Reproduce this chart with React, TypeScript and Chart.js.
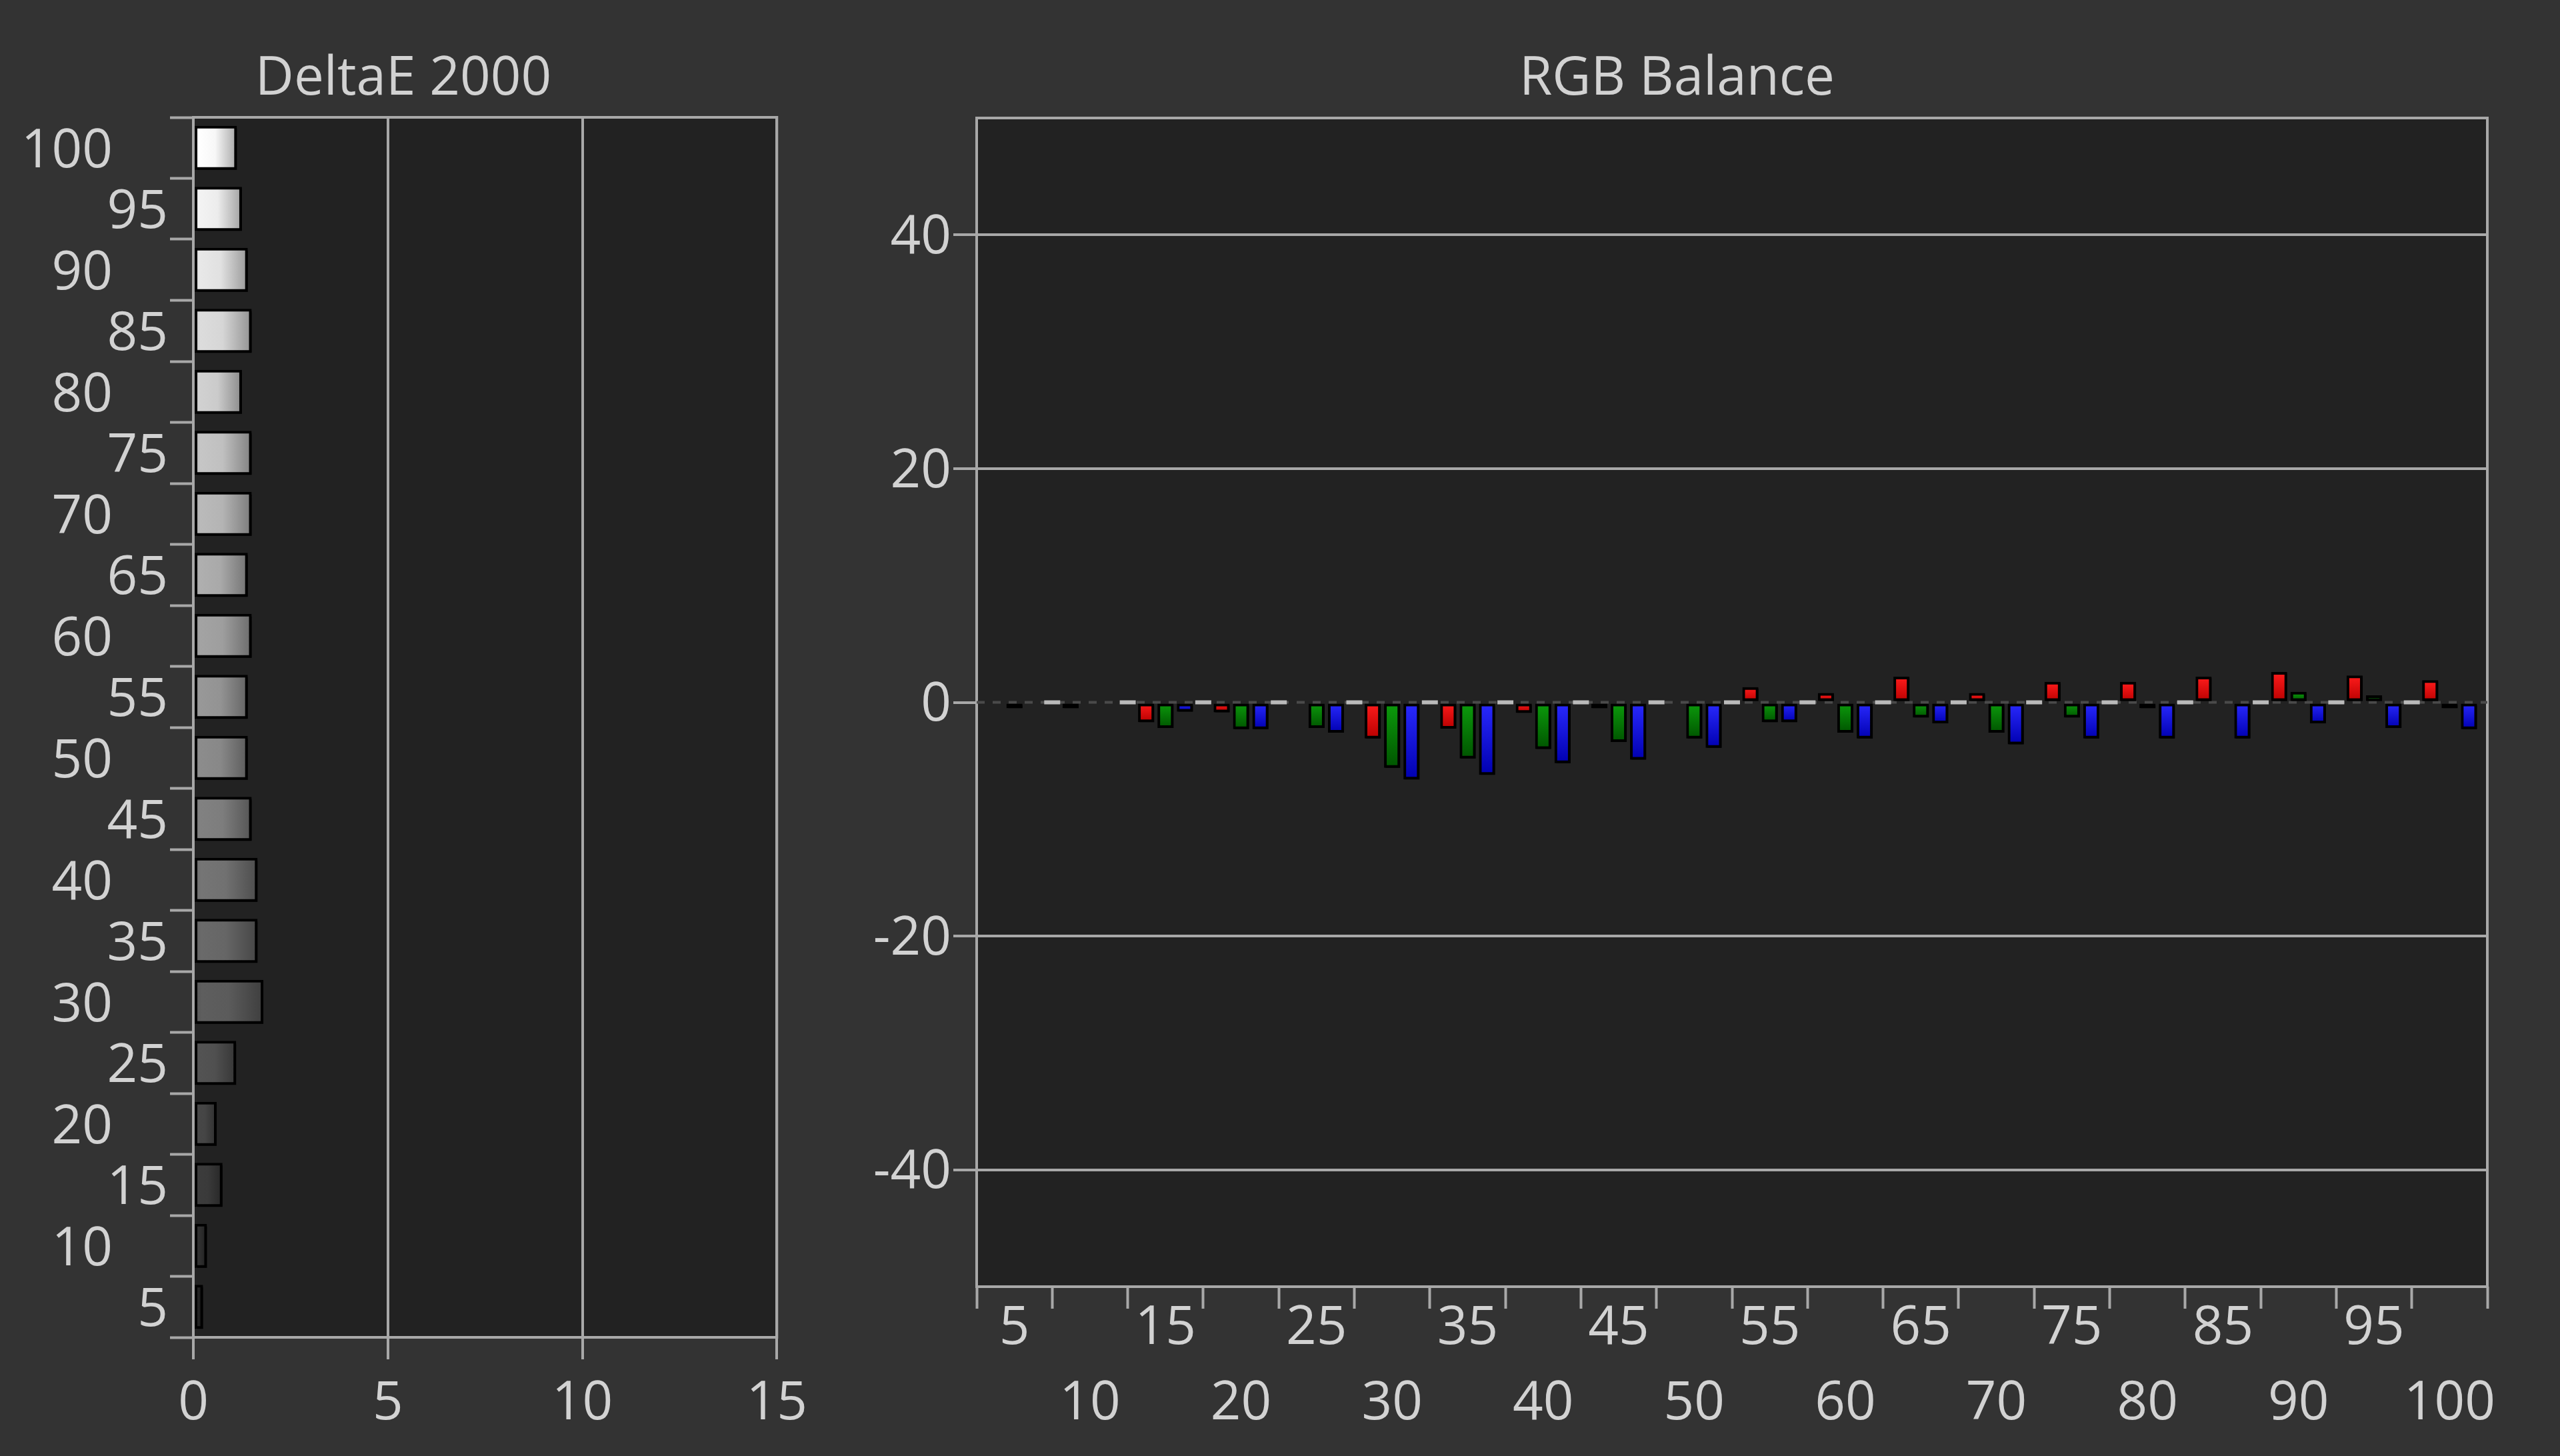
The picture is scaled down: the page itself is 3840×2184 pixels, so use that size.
import React, { useEffect, useRef } from "react";
import { Chart, registerables } from "chart.js";

Chart.register(...registerables);

// ---- data ----
const levels = [5, 10, 15, 20, 25, 30, 35, 40, 45, 50, 55, 60, 65, 70, 75, 80, 85, 90, 95, 100];
const deltaE = [0.25, 0.35, 0.75, 0.6, 1.1, 1.8, 1.65, 1.65, 1.5, 1.4, 1.4, 1.5, 1.4, 1.5, 1.5, 1.25, 1.5, 1.4, 1.25, 1.12];
const redBal = [null, -0.5, -1.7, -0.85, null, -3.1, -2.25, -0.9, -0.5, null, 1.3, 0.8, 2.2, 0.8, 1.75, 1.75, 2.2, 2.6, 2.3, 1.9];
const greenBal = [-0.5, null, -2.2, -2.3, -2.2, -5.6, -4.8, -4.0, -3.4, -3.1, -1.7, -2.6, -1.3, -2.6, -1.3, -0.5, null, 0.9, 0.6, -0.5];
const blueBal = [null, null, -0.8, -2.3, -2.6, -6.6, -6.2, -5.2, -4.9, -3.9, -1.7, -3.1, -1.8, -3.6, -3.1, -3.1, -3.1, -1.8, -2.2, -2.3];
const deltaTicks = [0, 5, 10, 15];
const rgbTicks = [-40, -20, 0, 20, 40];

const FONT = "'Open Sans', 'Noto Sans', sans-serif";
const TXT = "#d2d2d2";
const LINE = "#a8a8a8";
const PLOT_BG = "#222222";

function rgb(v: number) {
  const c = Math.max(0, Math.min(255, Math.round(v)));
  return `rgb(${c},${c},${c})`;
}

function grayFill(ctx: any) {
  const chart = ctx.chart;
  if (!chart.chartArea || ctx.raw == null || ctx.dataIndex == null) return "#888";
  const g = 2.3 * levels[ctx.dataIndex] + 25;
  const x0 = chart.scales.x.getPixelForValue(0);
  const x1 = chart.scales.x.getPixelForValue(ctx.raw);
  if (x1 - x0 < 2) return rgb(g);
  const grad = chart.ctx.createLinearGradient(x0, 0, x1, 0);
  grad.addColorStop(0, rgb(g * 0.86));
  grad.addColorStop(0.12, rgb(g));
  grad.addColorStop(0.5, rgb(g * 0.97));
  grad.addColorStop(1, rgb(g * 0.66));
  return grad;
}

function vGrad(top: string, bottom: string) {
  return (ctx: any) => {
    const chart = ctx.chart;
    if (!chart.chartArea || ctx.raw == null) return top;
    const y0 = chart.scales.y.getPixelForValue(0);
    const y1 = chart.scales.y.getPixelForValue(ctx.raw);
    const a = Math.min(y0, y1);
    const b = Math.max(y0, y1);
    if (b - a < 2) return top;
    const g = chart.ctx.createLinearGradient(0, a, 0, b);
    g.addColorStop(0, top);
    g.addColorStop(1, bottom);
    return g;
  };
}

function makeFramePlugin(opts: { zero?: boolean; shadow: [number, number] }) {
  return {
    id: "frame",
    beforeDraw(chart: any) {
      const { ctx, chartArea: a } = chart;
      ctx.save();
      ctx.fillStyle = PLOT_BG;
      ctx.fillRect(a.left, a.top, a.right - a.left, a.bottom - a.top);
      ctx.restore();
    },
    beforeDatasetsDraw(chart: any) {
      const { ctx, chartArea: a } = chart;
      ctx.save();
      ctx.strokeStyle = LINE;
      ctx.lineWidth = 4;
      ctx.strokeRect(a.left, a.top, a.right - a.left, a.bottom - a.top);
      if (opts.zero) {
        const y0 = chart.scales.y.getPixelForValue(0);
        ctx.strokeStyle = "#4a4a4a";
        ctx.setLineDash([12, 12]);
        ctx.beginPath();
        ctx.moveTo(a.left, y0);
        ctx.lineTo(a.right, y0);
        ctx.stroke();
        ctx.setLineDash([]);
        ctx.strokeStyle = "#bababa";
        ctx.lineWidth = 6;
        const xs = chart.scales.x;
        for (let i = 1; i < levels.length; i++) {
          const x = xs.getPixelForValue(i - 0.5);
          ctx.beginPath();
          ctx.moveTo(x - 12, y0);
          ctx.lineTo(x + 12, y0);
          ctx.stroke();
        }
      }
      ctx.restore();
      ctx.save();
      ctx.shadowColor = "rgba(0,0,0,0.95)";
      ctx.shadowOffsetX = opts.shadow[0];
      ctx.shadowOffsetY = opts.shadow[1];
      ctx.shadowBlur = 2;
    },
    afterDatasetsDraw(chart: any) {
      chart.ctx.restore();
    },
  };
}

export default function App() {
  const leftRef = useRef<HTMLCanvasElement>(null);
  const rightRef = useRef<HTMLCanvasElement>(null);

  useEffect(() => {
    document.body.style.margin = "0";
    document.body.style.background = "#333333";
    const font = { family: FONT, size: 80, weight: "normal" as const };

    const left = new Chart(leftRef.current!, {
      type: "bar",
      data: {
        labels: levels.map(String),
        datasets: [
          {
            data: deltaE,
            backgroundColor: grayFill,
            borderColor: "#000000",
            borderWidth: 4,
            borderSkipped: false,
            barPercentage: 0.72,
            categoryPercentage: 1,
          },
        ],
      },
      options: {
        indexAxis: "y",
        responsive: false,
        devicePixelRatio: 1,
        animation: false,
        layout: { padding: { left: 0, right: 0, top: 0, bottom: 0 } },
        plugins: {
          legend: { display: false },
          tooltip: { enabled: false },
          title: {
            display: true,
            text: "DeltaE 2000",
            color: TXT,
            font: { family: FONT, size: 80, weight: "normal", lineHeight: 1.2 },
            padding: { top: 71, bottom: 9 },
          },
        },
        scales: {
          y: {
            type: "category",
            reverse: true,
            position: "left",
            border: { display: false },
            grid: { drawOnChartArea: false, offset: true, tickLength: 35, tickWidth: 4, tickColor: LINE, color: LINE },
            ticks: {
              color: TXT,
              font,
              padding: 3,
              labelOffset: 6,
              autoSkip: false,
              callback: (_v: any, i: number) => (levels[i] % 10 === 0 ? String(levels[i]) + "    " : String(levels[i])),
            },
            afterFit: (s: any) => {
              s.width = 310;
            },
          },
          x: {
            type: "linear",
            min: deltaTicks[0],
            max: deltaTicks[deltaTicks.length - 1],
            border: { display: false },
            grid: { color: LINE, lineWidth: 4, tickLength: 33, tickWidth: 4, tickColor: LINE },
            ticks: { color: TXT, font, padding: 19, stepSize: 5 },
            afterBuildTicks: (s: any) => {
              s.ticks = deltaTicks.map((v) => ({ value: v }));
            },
            afterFit: (s: any) => {
              s.height = 178;
            },
          },
        },
      },
      plugins: [makeFramePlugin({ shadow: [4, 4] })],
    } as any);

    const right = new Chart(rightRef.current!, {
      type: "bar",
      data: {
        labels: levels.map(String),
        datasets: [
          { label: "R", data: redBal, backgroundColor: vGrad("#ff1c1c", "#b80000") },
          { label: "G", data: greenBal, backgroundColor: vGrad("#0c9c0c", "#005400") },
          { label: "B", data: blueBal, backgroundColor: vGrad("#2a2aff", "#0000b0") },
        ].map((d) => ({
          ...d,
          borderColor: "#000000",
          borderWidth: 4,
          borderSkipped: false,
          barPercentage: 0.83,
          categoryPercentage: 0.77,
        })),
      },
      options: {
        responsive: false,
        devicePixelRatio: 1,
        animation: false,
        layout: { padding: { left: 0, right: 14, top: 0, bottom: 0 } },
        plugins: {
          legend: { display: false },
          tooltip: { enabled: false },
          title: {
            display: true,
            text: "RGB Balance",
            color: TXT,
            font: { family: FONT, size: 80, weight: "normal", lineHeight: 1.2 },
            padding: { top: 71, bottom: 10 },
          },
        },
        scales: {
          x: {
            type: "category",
            border: { display: false },
            grid: { drawOnChartArea: false, offset: true, tickLength: 33, tickWidth: 4, tickColor: LINE, color: LINE },
            ticks: {
              color: TXT,
              font: { ...font, lineHeight: 1.41 },
              padding: -26,
              autoSkip: false,
              maxRotation: 0,
              minRotation: 0,
              callback: (_v: any, i: number) => (i % 2 === 0 ? [String(levels[i])] : ["", String(levels[i])]),
            },
            afterFit: (s: any) => {
              s.height = 254;
            },
          },
          y: {
            type: "linear",
            min: -50,
            max: 50,
            border: { display: false },
            grid: {
              color: (c: any) => (c.tick && c.tick.value === 0 ? "rgba(0,0,0,0)" : LINE),
              lineWidth: 4,
              tickLength: 35,
              tickWidth: 4,
              tickColor: LINE,
            },
            ticks: { color: TXT, font, padding: 3, labelOffset: 5, callback: (v: any) => String(v) },
            afterBuildTicks: (s: any) => {
              s.ticks = rgbTicks.map((v) => ({ value: v }));
            },
            afterFit: (s: any) => {
              s.width = 165;
            },
          },
        },
      },
      plugins: [makeFramePlugin({ zero: true, shadow: [2, 2] })],
    } as any);

    return () => {
      left.destroy();
      right.destroy();
    };
  }, []);

  return (
    <div style={{ position: "relative", width: 3840, height: 2184, background: "#333333", overflow: "hidden" }}>
      <canvas
        ref={leftRef}
        width={1250}
        height={2184}
        style={{ position: "absolute", left: -20, top: 0, width: 1250, height: 2184 }}
      />
      <canvas
        ref={rightRef}
        width={2445}
        height={2184}
        style={{ position: "absolute", left: 1300, top: 0, width: 2445, height: 2184 }}
      />
    </div>
  );
}
